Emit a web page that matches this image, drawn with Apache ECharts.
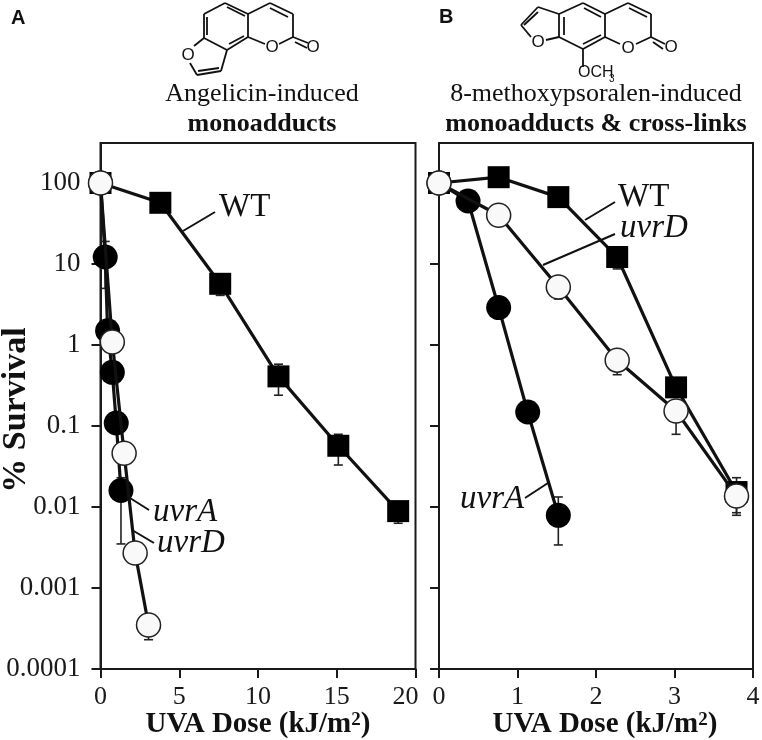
<!DOCTYPE html>
<html>
<head>
<meta charset="utf-8">
<style>html,body{margin:0;padding:0;background:#fff}#main{width:762px;height:740px}</style>
<script src="https://cdn.jsdelivr.net/npm/echarts@6/dist/echarts.min.js"></script>
</head>
<body>
<div id="main"></div>
<script>
// panel A - angelicin
var aWtX = [0, 3.8, 7.6, 11.3, 15.1, 18.9];
var aWtY = [100, 57, 5.7, 0.41, 0.057, 0.0089];
var aUvrAX = [0, 0.3, 0.45, 0.75, 1.0, 1.3];
var aUvrAY = [100, 12.2, 1.5, 0.46, 0.109, 0.016];
var aUvrDX = [0, 0.75, 1.5, 2.2, 3.05];
var aUvrDY = [100, 1.09, 0.046, 0.0027, 0.00035];
// panel B - 8-MOP
var bWtX = [0, 0.76, 1.52, 2.27, 3.02, 3.79];
var bWtY = [100, 118, 67, 12.2, 0.3, 0.0153];
var bUvrAX = [0, 0.37, 0.76, 1.13, 1.52];
var bUvrAY = [100, 60, 2.9, 0.149, 0.0079];
var bUvrDX = [0, 0.76, 1.52, 2.27, 3.02, 3.79];
var bUvrDY = [100, 40, 5.2, 0.65, 0.153, 0.0137];
// error bars: dose, low, high
var aErrors = [
    [7.6, 4.1, 5.7], [11.3, 0.24, 0.58], [15.1, 0.033, 0.079], [18.9, 0.0063, 0.0089],
    [0.3, 5, 19], [1.3, 0.0035, 0.023], [3.05, 0.00023, 0.00035]
];
var bErrors = [
    [2.27, 8.7, 12.2], [3.79, 0.0085, 0.023], [1.52, 3.7, 5.2], [2.27, 0.43, 0.65],
    [3.02, 0.079, 0.153], [3.79, 0.0079, 0.0137], [1.52, 0.0034, 0.0133]
];
var yTicks = [0.0001, 0.001, 0.01, 0.1, 1, 10, 100];
var yTickLabels = ['0.0001', '0.001', '0.01', '0.1', '1', '10', '100'];

var serif = '"Liberation Serif", serif';
var ink = '#1a1a1a';

function zip(xs, ys) {
    return xs.map(function (x, i) { return [x, ys[i]]; });
}

function lineSeries(idx, name, xs, ys, symbol, fill, size, z) {
    return {
        name: name,
        type: 'line',
        xAxisIndex: idx,
        yAxisIndex: idx,
        data: zip(xs, ys),
        symbol: symbol,
        symbolSize: size,
        showAllSymbol: true,
        clip: false,
        z: z,
        lineStyle: {color: '#111', width: 3.2},
        itemStyle: {color: fill, borderColor: fill === '#000' ? '#000' : '#222', borderWidth: fill === '#000' ? 0 : 1.5, opacity: 1}
    };
}

function errorSeries(idx, rows) {
    return {
        type: 'custom',
        xAxisIndex: idx,
        yAxisIndex: idx,
        data: rows,
        clip: false,
        z: 1,
        silent: true,
        renderItem: function (params, api) {
            var lo = api.coord([api.value(0), api.value(1)]);
            var hi = api.coord([api.value(0), api.value(2)]);
            var st = {stroke: '#222', lineWidth: 1.6, fill: 'none'};
            return {
                type: 'group',
                children: [
                    {type: 'line', shape: {x1: lo[0], y1: lo[1], x2: hi[0], y2: hi[1]}, style: st},
                    {type: 'line', shape: {x1: lo[0] - 4.5, y1: lo[1], x2: lo[0] + 4.5, y2: lo[1]}, style: st},
                    {type: 'line', shape: {x1: hi[0] - 4.5, y1: hi[1], x2: hi[0] + 4.5, y2: hi[1]}, style: st}
                ]
            };
        }
    };
}

function xAxis(idx, max, interval, namePad) {
    return {
        type: 'value',
        gridIndex: idx,
        min: 0,
        max: max,
        interval: interval,
        name: '{t|UVA Dose (kJ/m}{s|2}{t|)}',
        nameLocation: 'middle',
        nameGap: 41,
        nameMoveOverlap: false,
        nameTextStyle: {
            padding: [0, 0, 0, namePad],
            rich: {
                t: {fontFamily: serif, fontWeight: 'bold', fontSize: 29, color: '#111'},
                s: {fontFamily: serif, fontWeight: 'bold', fontSize: 19, color: '#111', padding: [0, 0, 9, 0]}
            }
        },
        splitLine: {show: false},
        axisLine: {lineStyle: {color: ink, width: 2}},
        axisTick: {length: 9, lineStyle: {color: ink, width: 2}},
        axisLabel: {
            fontFamily: serif, fontSize: 26, color: ink, margin: 15, showMinLabel: true, showMaxLabel: true,
            // the 20 sits left of its tick, clear of the next panel's 0
            formatter: function (v) { return v === 20 ? '{p|20}' : String(v); },
            rich: {p: {fontFamily: serif, fontSize: 26, color: ink, padding: [0, 20, 0, 0]}}
        }
    };
}

function yAxis(idx, showLabels) {
    return {
        type: 'log',
        gridIndex: idx,
        logBase: 10,
        min: 0.0001,
        max: 312,
        splitLine: {show: false},
        minorTick: {show: false},
        axisLine: {show: true, lineStyle: {color: ink, width: 2}},
        axisTick: {show: true, length: 9, lineStyle: {color: ink, width: 2}, customValues: yTicks},
        axisLabel: {
            show: showLabels,
            fontFamily: serif,
            fontSize: 27,
            color: ink,
            margin: 20,
            customValues: yTicks,
            formatter: function (v) {
                var i = yTicks.findIndex(function (t) { return Math.abs(Math.log10(t) - Math.log10(v)) < 1e-6; });
                return i < 0 ? '' : yTickLabels[i];
            }
        }
    };
}

// ring structures above the panels
var angelicinBonds = [
    [204,14,225,3],[225,3,248,14],[248,14,248,37],[248,37,227,50],[227,50,204,38],[204,38,204,14],
    [207,17,207,35],[227,7,245,16],[229,44,244,36],
    [248,14,270,3],[270,3,293,14],[293,14,293,37],[293,37,279,44],[265,44,248,37],[270,8,288,17],
    [293,37,308,43],[295,42,307,48],
    [204,38,194,46],[190,63,197,75],[197,75,221,71],[221,71,227,50],[198,71,219,68]
];
var psoralenBonds = [
    [559,14,583,3],[583,3,605,14],[605,14,605,37],[605,37,583,49],[583,49,559,37],[559,37,559,14],
    [584,8,601,17],[564,17,564,35],[583,44,601,35],
    [605,14,628,3],[628,3,651,14],[651,14,651,37],[651,37,636,44],[620,44,605,37],[629,8,647,17],
    [651,37,665,44],[653,42,663,49],
    [559,14,538,7],[538,7,521,25],[521,25,531,37],[546,40,559,37],[538,12,524,25],
    [583,49,583,67]
];
// leader lines from the strain labels
var leaders = [
    [183,231,215,212],[130,498,149,510],[132,530,154,543],
    [585,220,615,202],[543,265,615,234],[525,498,548,483]
];

function seg(s, w) {
    return {type: 'line', shape: {x1: s[0], y1: s[1], x2: s[2], y2: s[3]}, style: {stroke: '#111', lineWidth: w}, z: 20};
}
function txt(x, y, s, font, color, align, rot) {
    var o = {type: 'text', x: x, y: y, z: 20, style: {text: s, font: font, fill: color || '#111', textAlign: align || 'left', textVerticalAlign: 'middle'}};
    if (rot) { o.rotation = rot; }
    return o;
}

var graphics = [];
angelicinBonds.concat(psoralenBonds).forEach(function (s) { graphics.push(seg(s, 1.8)); });
leaders.forEach(function (s) { graphics.push(seg(s, 2)); });

var sansO = '17px "Liberation Sans", sans-serif';
[[272,47],[313,47],[188,55],[628,48],[671,47],[538,42]].forEach(function (p) {
    graphics.push(txt(p[0], p[1], 'O', sansO, '#111', 'center'));
});
graphics.push(txt(578, 73, 'OCH', '16px "Liberation Sans", sans-serif'));
graphics.push(txt(609, 79, '3', '10px "Liberation Sans", sans-serif'));

graphics.push(txt(11, 18, 'A', 'bold 20px "Liberation Sans", sans-serif'));
graphics.push(txt(439, 17, 'B', 'bold 20px "Liberation Sans", sans-serif'));

graphics.push(txt(262, 94, 'Angelicin-induced', '26px ' + serif, '#111', 'center'));
graphics.push(txt(262, 124, 'monoadducts', 'bold 26px ' + serif, '#111', 'center'));
graphics.push(txt(596, 94, '8-methoxypsoralen-induced', '26px ' + serif, '#111', 'center'));
graphics.push(txt(596, 124, 'monoadducts & cross-links', 'bold 26px ' + serif, '#111', 'center'));

graphics.push(txt(16, 410, '% Survival', 'bold 34px ' + serif, '#111', 'center', Math.PI / 2));

var label = '33px ' + serif, labelIt = 'italic 33px ' + serif;
graphics.push(txt(219, 207, 'WT', label));
graphics.push(txt(153, 512, 'uvrA', labelIt));
graphics.push(txt(157, 543, 'uvrD', labelIt));
graphics.push(txt(618, 197, 'WT', label));
graphics.push(txt(620, 228, 'uvrD', labelIt));
graphics.push(txt(460, 499, 'uvrA', labelIt));

var chart = echarts.init(document.getElementById('main'), null, {renderer: 'canvas'});

var option = {
    animation: false,
    backgroundColor: '#fff',
    grid: [
        {left: 100.5, top: 143, width: 315, height: 526, outerBoundsMode: 'none', show: true, borderColor: ink, borderWidth: 2, backgroundColor: 'transparent'},
        {left: 439, top: 143, width: 314, height: 526, outerBoundsMode: 'none', show: true, borderColor: ink, borderWidth: 2, backgroundColor: 'transparent'}
    ],
    xAxis: [xAxis(0, 20, 5, 0), xAxis(1, 4, 1, 18)],
    yAxis: [yAxis(0, true), yAxis(1, false)],
    series: [
        errorSeries(0, aErrors),
        lineSeries(0, 'WT', aWtX, aWtY, 'rect', '#000', 22, 3),
        lineSeries(0, 'uvrA', aUvrAX, aUvrAY, 'circle', '#000', 25, 4),
        lineSeries(0, 'uvrD', aUvrDX, aUvrDY, 'circle', '#f9f9f9', 24, 5),
        errorSeries(1, bErrors),
        lineSeries(1, 'WT', bWtX, bWtY, 'rect', '#000', 22, 3),
        lineSeries(1, 'uvrA', bUvrAX, bUvrAY, 'circle', '#000', 25, 4),
        lineSeries(1, 'uvrD', bUvrDX, bUvrDY, 'circle', '#f9f9f9', 24, 5)
    ],
    graphic: {elements: graphics}
};

chart.setOption(option);
</script>
</body>
</html>
